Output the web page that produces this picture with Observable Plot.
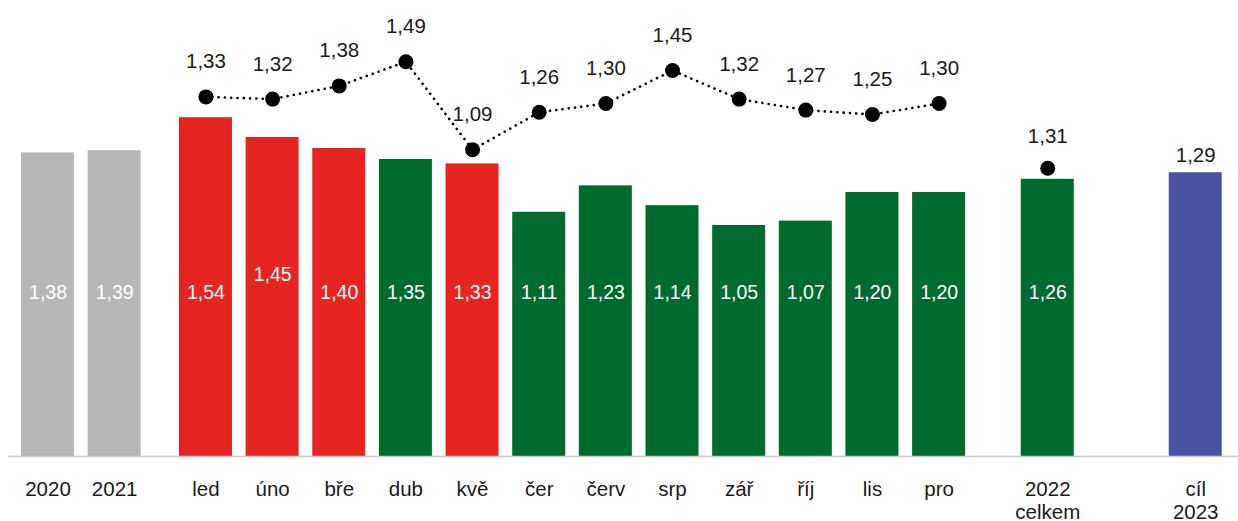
<!DOCTYPE html>
<html><head><meta charset="utf-8">
<script src="https://cdn.jsdelivr.net/npm/d3@7"></script>
<script src="https://cdn.jsdelivr.net/npm/@observablehq/plot@0.6"></script>
<style>body{margin:0;background:#fff;} svg{display:block}</style>
</head><body><div id="chart"></div>
<script>
// ---- data ----
const categories = ["2020","2021","led","úno","bře","dub","kvě","čer","červ","srp","zář","říj","lis","pro","2022\ncelkem","cíl\n2023"];
const barValues = [1.38,1.39,1.54,1.45,1.40,1.35,1.33,1.11,1.23,1.14,1.05,1.07,1.20,1.20,1.26,1.29];
const groups = ["roky","roky","měsíce","měsíce","měsíce","měsíce","měsíce","měsíce","měsíce","měsíce","měsíce","měsíce","měsíce","měsíce","celkem","cíl"];
const monthLineValues = [1.33,1.32,1.38,1.49,1.09,1.26,1.30,1.45,1.32,1.27,1.25,1.30];
const totalLineValue = 1.31;

// ---- layout ----
const W = 1238, H = 521;
const slot = 66.65, firstCenter = 47.5, halfBar = 26.5 / slot;
const groupGap = {"roky": 0, "měsíce": 0.37, "celkem": 1.0, "cíl": 2.22};
const fmt = v => d3.format(".2f")(v).replace(".", ",");
const font = "'Liberation Sans', Arial, sans-serif";

let m = 0;
const rows = categories.map((c, i) => {
  const g = groups[i];
  let line = null;
  if (g === "měsíce") line = monthLineValues[m++];
  if (g === "celkem") line = totalLineValue;
  const parts = c.split("\n");
  return {cat: c, first: parts[0], second: parts[1] || "", value: barValues[i], group: g, pos: i + groupGap[g], line};
});
const colorOf = d => d.group === "roky" ? "#b7b7b7"
  : d.group === "cíl" ? "#4a53a0"
  : (d.value > d.line ? "#e52521" : "#006b2f");

const monthRows = rows.filter(d => d.group === "měsíce");
const totalRows = rows.filter(d => d.group === "celkem");
const insideRows = rows.filter(d => d.group !== "cíl" && d.cat !== "úno");
const unoRows = rows.filter(d => d.cat === "úno");
const targetRows = rows.filter(d => d.group === "cíl");
const twoLineRows = rows.filter(d => d.second);

const outerSize = 20.5, innerSize = 19.5, ink = "#1a1a1a";

const chart = Plot.plot({
  width: W, height: H,
  marginLeft: 0, marginRight: 0, marginTop: 0, marginBottom: 65,
  x: {type: "linear", domain: [-firstCenter / slot, (W - firstCenter) / slot], axis: null},
  y: {domain: [0, 456 / 220], axis: null},
  style: {fontFamily: font, background: "#fff", overflow: "visible"},
  marks: [
    Plot.rectY(rows, {x1: d => d.pos - halfBar, x2: d => d.pos + halfBar, y: "value", fill: colorOf}),
    Plot.ruleY([0], {stroke: "#c8c8c8", strokeWidth: 1.5, insetLeft: 8}),
    Plot.text(insideRows, {x: "pos", y: () => 0, text: d => fmt(d.value), dy: -163.5, fill: "white", fontSize: innerSize}),
    Plot.text(unoRows, {x: "pos", y: () => 0, text: d => fmt(d.value), dy: -182, fill: "white", fontSize: innerSize}),
    Plot.text(targetRows, {x: "pos", y: "value", text: d => fmt(d.value), dy: -17, fill: ink, fontSize: outerSize}),
    Plot.line(monthRows, {x: "pos", y: "line", dy: -67, stroke: "black", strokeWidth: 2.6, strokeLinecap: "round", strokeDasharray: "0.1,6.2"}),
    Plot.dot(monthRows, {x: "pos", y: "line", dy: -67, r: 7.5, fill: "black", stroke: "none"}),
    Plot.text(monthRows, {x: "pos", y: "line", text: d => fmt(d.line), dy: -102, fill: ink, fontSize: outerSize}),
    Plot.dot(totalRows, {x: "pos", y: "line", r: 7.5, fill: "black", stroke: "none"}),
    Plot.text(totalRows, {x: "pos", y: "line", text: d => fmt(d.line), dy: -32, fill: ink, fontSize: outerSize}),
    Plot.text(rows, {x: "pos", y: () => 0, text: "first", dy: 32.5, fill: ink, fontSize: outerSize}),
    Plot.text(twoLineRows, {x: "pos", y: () => 0, text: "second", dy: 55.5, fill: ink, fontSize: outerSize})
  ]
});
document.getElementById("chart").appendChild(chart);
</script>
</body></html>
